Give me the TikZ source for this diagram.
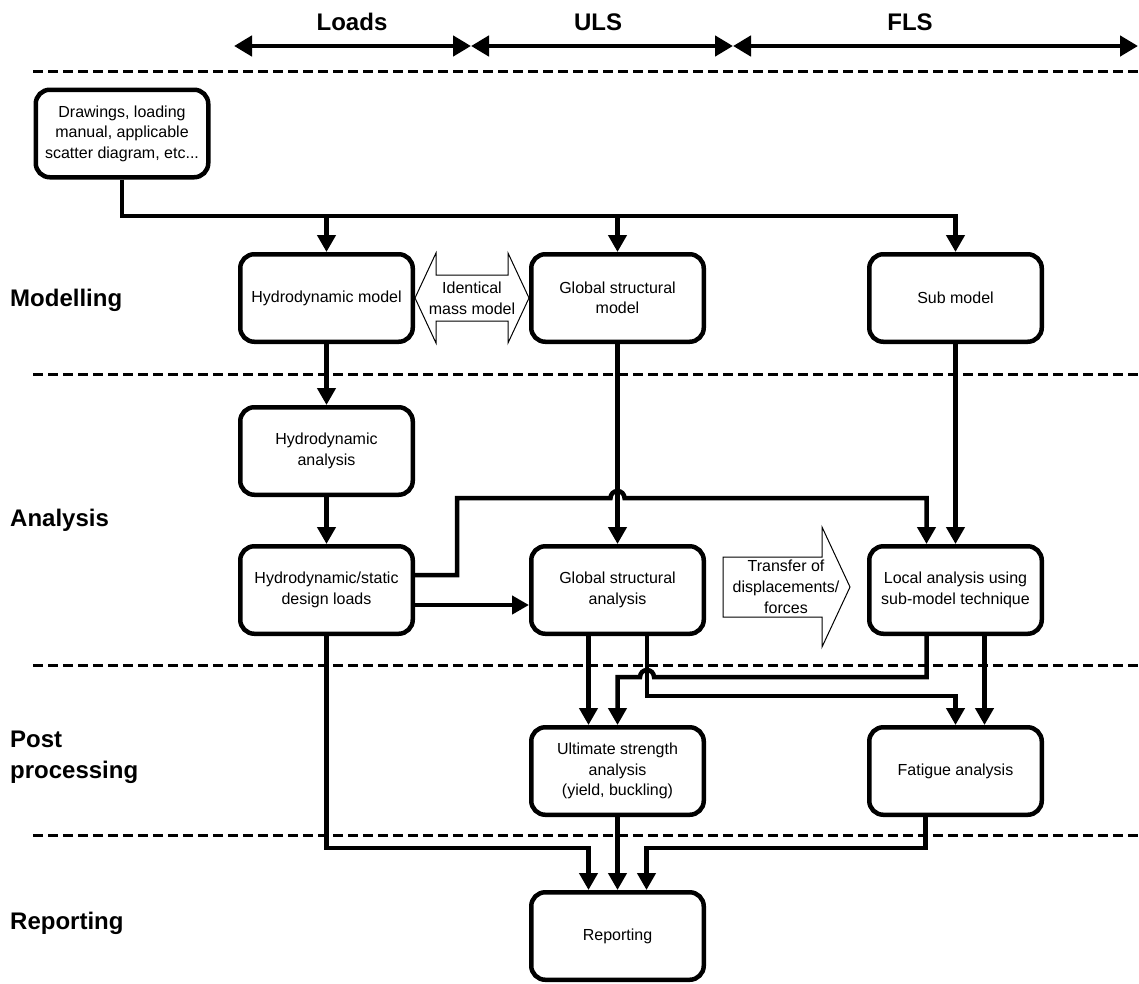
\documentclass[tikz,border=0pt]{standalone}
\usepackage{fontspec}
\setmainfont{Liberation Sans}
\usetikzlibrary{arrows.meta,calc}
\begin{document}
\begin{tikzpicture}[x=1pt,y=-1pt,
  box/.style={draw,line width=4.5pt,rounded corners=14pt,minimum width=172.5pt,minimum height=87.5pt,align=center,font=\fontsize{16}{20.5}\selectfont,inner sep=2pt,fill=white},
  conn/.style={line width=4.5pt},
  arr/.style={conn,-{Triangle[width=18pt,length=17pt]}},
  toparr/.style={line width=4.5pt,{Triangle[width=20pt,length=18pt]}-{Triangle[width=20pt,length=18pt]}},
  lab/.style={anchor=west,align=left,font=\fontsize{24}{31}\selectfont\bfseries,inner sep=0pt},
  toplab/.style={font=\fontsize{24}{31}\selectfont\bfseries,inner sep=0pt},
  sep/.style={line width=3pt,dash pattern=on 10pt off 5pt},
  hollow/.style={draw,line width=1pt,fill=white},
  txt/.style={align=center,font=\fontsize{16}{21}\selectfont,inner sep=0pt}]
\useasboundingbox (0,0) rectangle (1139,983);
\fill[white] (0,0) rectangle (1139,983);

% top scope arrows
\coordinate (t0) at (234,46);
\coordinate (t1) at (471,46);
\coordinate (t2) at (733,46);
\coordinate (t3) at (1138,46);
\draw[toparr] (t0) -- (t1);
\draw[toparr] (t1) -- (t2);
\draw[toparr] (t2) -- (t3);
\node[toplab] (lloads) at (352,22) {Loads};
\node[toplab] (luls) at (598,22) {ULS};
\node[toplab] (lfls) at (910,22) {FLS};

% separators
\foreach \yy in {71,374,665,835} {
  \draw[sep] (33,\yy) -- (1139,\yy);
}

% side labels
\node[lab] (lmod) at (10,300) {Modelling};
\node[lab] (lana) at (10,520) {Analysis};
\node[lab] (lpost) at (10,757) {Post\\processing};
\node[lab] (lrep) at (10,923) {Reporting};

% boxes
\node[box] (drw) at (122,133.5) {Drawings, loading\\manual, applicable\\scatter diagram, etc...};
\node[box] (hm) at (326.5,298) {Hydrodynamic model};
\node[box] (gsm) at (617.5,298) {Global structural\\model};
\node[box] (sm) at (955.5,298) {Sub model};
\node[box] (ha) at (326.5,451) {Hydrodynamic\\analysis};
\node[box] (hdl) at (326.5,590) {Hydrodynamic/static\\design loads};
\node[box] (gsa) at (617.5,590) {Global structural\\analysis};
\node[box] (la) at (955.5,590) {Local analysis using\\sub-model technique};
\node[box] (us) at (617.5,771) {Ultimate strength\\analysis\\(yield, buckling)};
\node[box] (fa) at (955.5,771) {Fatigue analysis};
\node[box] (rep) at (617.5,936) {Reporting};

% hollow arrows
\draw[hollow] (415,298) -- (436,253) -- (436,275) -- (508,275) -- (508,253) -- (529,298) -- (508,343) -- (508,321) -- (436,321) -- (436,343) -- cycle;
\node[txt] (ident) at (472,298) {Identical\\mass model};
\draw[hollow] (723,557) -- (822,557) -- (822,527) -- (850,587) -- (822,647) -- (822,617) -- (723,617) -- cycle;
\node[txt] (transfer) at (786,587) {Transfer of\\displacements/\\forces};

% helper coordinates
\coordinate (bus) at (0,216);
\coordinate (hb) at (0,498);
\coordinate (jx) at (457,0);
\coordinate (b677) at (0,677);
\coordinate (b696) at (0,696);
\coordinate (b848) at (0,848);
\coordinate (hdlE1) at ($(hdl.east)+(0,-15)$);
\coordinate (hdlE2) at ($(hdl.east)+(0,15)$);
\coordinate (laL) at ($(la.north)+(-29,0)$);
\coordinate (gsaL) at ($(gsa.south)+(-29,0)$);
\coordinate (gsaR) at ($(gsa.south)+(29.5,0)$);
\coordinate (laBL) at ($(la.south)+(-29,0)$);
\coordinate (laBR) at ($(la.south)+(29,0)$);
\coordinate (faBL) at ($(fa.south)+(-30,0)$);
\coordinate (repL) at ($(rep.north)+(-29,0)$);
\coordinate (repR) at ($(rep.north)+(29,0)$);

% connectors
\draw[arr] (drw.south) |- (bus -| sm.north) -- (sm.north);
\draw[arr] (bus -| hm.north) -- (hm.north);
\draw[arr] (bus -| gsm.north) -- (gsm.north);
\draw[arr] (hm.south) -- (ha.north);
\draw[arr] (ha.south) -- (hdl.north);
\draw[arr] (gsm.south) -- (gsa.north);
\draw[arr] (sm.south) -- (la.north);
\draw[arr] (hdlE1) -| (jx |- hb) -- ($(hb -| gsm.south)+(-7,0)$) arc[start angle=180,end angle=0,radius=7pt] -- (laL |- hb) -- (laL);
\draw[arr] (hdlE2) -- (hdlE2 -| gsa.west);
\draw[arr] (gsaL) -- (gsaL |- us.north);
\draw[arr] (gsaR) |- (b696 -| fa.north) -- (fa.north);
\draw[arr] (laBR) -- (laBR |- fa.north);
\draw[arr] (laBL) |- ($(b677 -| gsaR)+(7,0)$) arc[start angle=0,end angle=180,radius=7pt] -- (b677 -| us.north) -- (us.north);
\draw[arr] (faBL) |- (b848 -| repR) -- (repR);
\draw[arr] (us.south) -- (rep.north);
\draw[arr] (hdl.south) |- (b848 -| repL) -- (repL);
\end{tikzpicture}
\end{document}
